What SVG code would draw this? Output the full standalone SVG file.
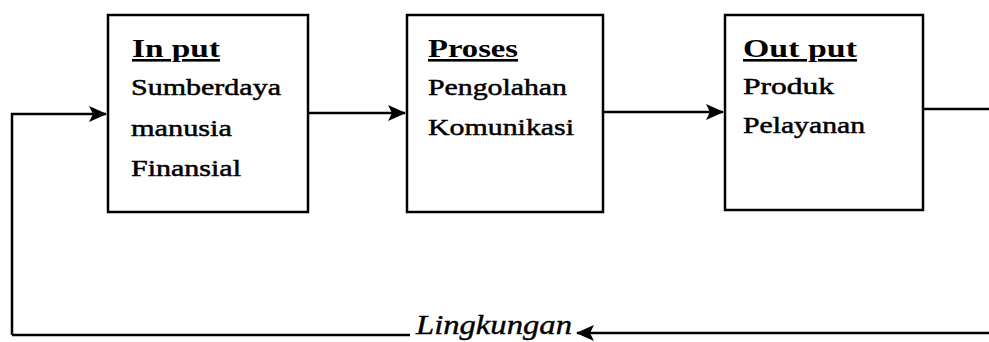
<svg xmlns="http://www.w3.org/2000/svg" width="989" height="342" viewBox="0 0 989 342">
<style>
.box{fill:#fff;stroke:#000;stroke-width:2.5}
.ln{fill:none;stroke:#000;stroke-width:2.5}
.t{font-family:'Liberation Serif','Times New Roman',Times,serif;font-size:24px;fill:#000;stroke:#000;stroke-width:0.5}
.h{font-family:'Liberation Serif','Times New Roman',Times,serif;font-size:26px;font-weight:bold;fill:#000;text-decoration:underline}
.env{font-family:'Liberation Serif','Times New Roman',Times,serif;font-size:27px;font-style:italic;fill:#000;stroke:#000;stroke-width:0.4}
</style>
<defs>
<marker id="ah" markerWidth="18" markerHeight="16" refX="17" refY="8" orient="auto" markerUnits="userSpaceOnUse">
<path d="M0,0 L18,8 L0,16 L4,8 Z" fill="#000"/>
</marker>
</defs>
<g id="connectors">
<path class="ln" d="M12,335 L12,114 L106,114" marker-end="url(#ah)"/>
<path class="ln" d="M308,113 L405,113" marker-end="url(#ah)"/>
<path class="ln" d="M603,112 L723,112" marker-end="url(#ah)"/>
<path class="ln" d="M923,109 L989,109"/>
<path class="ln" d="M12,335 L410,335"/>
<path class="ln" d="M989,333 L577,333" marker-end="url(#ah)"/>
</g>
<g id="input">
<rect class="box" x="108" y="15" width="200" height="197"/>
<text class="h" x="132" y="57" textLength="88" lengthAdjust="spacingAndGlyphs">In put</text>
<text class="t" x="131" y="95" textLength="150" lengthAdjust="spacingAndGlyphs">Sumberdaya</text>
<text class="t" x="131" y="136" textLength="101" lengthAdjust="spacingAndGlyphs">manusia</text>
<text class="t" x="131" y="176" textLength="110" lengthAdjust="spacingAndGlyphs">Finansial</text>
</g>
<g id="proses">
<rect class="box" x="407" y="15" width="196" height="197"/>
<text class="h" x="428" y="57" textLength="90" lengthAdjust="spacingAndGlyphs">Proses</text>
<text class="t" x="428" y="95" textLength="139" lengthAdjust="spacingAndGlyphs">Pengolahan</text>
<text class="t" x="428" y="135" textLength="146" lengthAdjust="spacingAndGlyphs">Komunikasi</text>
</g>
<g id="output">
<rect class="box" x="725" y="15" width="198" height="195"/>
<text class="h" x="743" y="57" textLength="114" lengthAdjust="spacingAndGlyphs">Out put</text>
<text class="t" x="743" y="94" textLength="91" lengthAdjust="spacingAndGlyphs">Produk</text>
<text class="t" x="743" y="133" textLength="122" lengthAdjust="spacingAndGlyphs">Pelayanan</text>
</g>
<g id="lingkungan">
<text class="env" x="416" y="334" textLength="156" lengthAdjust="spacingAndGlyphs">Lingkungan</text>
</g>
</svg>
